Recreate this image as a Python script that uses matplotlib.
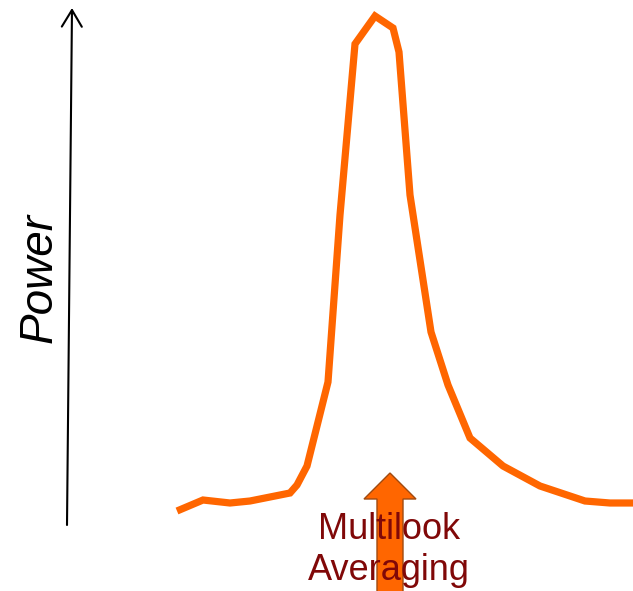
import matplotlib
matplotlib.use("Agg")
import matplotlib.pyplot as plt
from matplotlib.patches import FancyArrow

# Spectrum trace (horizontal position, power level) in canvas units
freq = [177, 203, 230, 250, 270, 290, 297, 307, 328, 340, 355, 375, 393,
        399, 410, 431, 448, 470, 503, 540, 585, 610, 633]
power = [80, 91, 88, 90, 94, 98, 106, 125, 209, 376, 547, 575, 563,
         539, 396, 259, 206, 153, 125, 105, 90, 88, 88]

axis_label = "Power"
arrow_label = "Multilook\nAveraging"

W, H = 633, 591
fig = plt.figure(figsize=(W / 100, H / 100), dpi=100)
ax = fig.add_axes([0, 0, 1, 1])
ax.set_xlim(0, W)
ax.set_ylim(0, H)
ax.axis("off")

# Vertical power axis with open arrowhead
ax.annotate("", xy=(72, H - 8), xytext=(67, H - 525),
            arrowprops=dict(arrowstyle="->,head_length=1.2,head_width=0.72",
                            mutation_scale=10, lw=1.5, color="black",
                            shrinkA=0, shrinkB=0))
ax.text(40, H - 278, axis_label, rotation=90, ha="center", va="center",
        fontsize=33, style="italic", family="Liberation Sans", color="black")

# Spectrum curve
ax.plot(freq, power, color="#FF6600", lw=5.2, solid_joinstyle="miter",
        solid_capstyle="butt", zorder=3)

# Upward block arrow under the peak
arr = FancyArrow(390, -5, 0, H - 473 + 5, width=26, head_width=52,
                 head_length=26, length_includes_head=True,
                 facecolor="#FF6600", edgecolor="#A04A10", lw=1.0, zorder=4)
ax.add_patch(arr)

ax.text(389, H - 550, arrow_label, ha="center", va="center", fontsize=26,
        family="Liberation Sans", color="#800808", linespacing=1.2, zorder=5)

fig.savefig("out.png", dpi=100)
